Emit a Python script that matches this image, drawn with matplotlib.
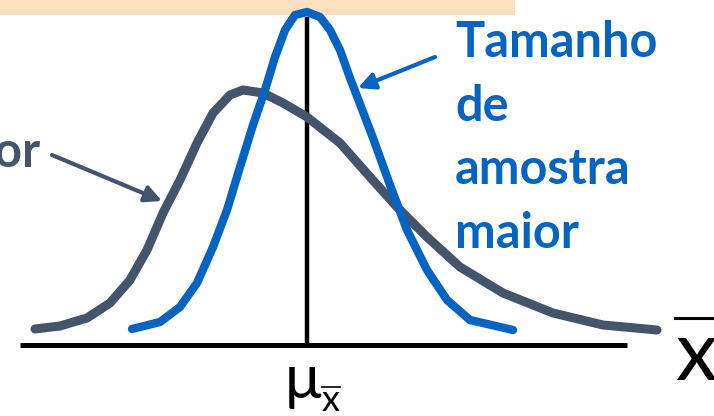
import matplotlib.pyplot as plt
from matplotlib.patches import Rectangle

# curves (x relative to the mean, y = height above the axis)
wide_x = [-2.72, -2.47, -2.20, -1.97, -1.77, -1.60, -1.44, -1.27, -1.10, -0.94, -0.77, -0.64,
          -0.44, -0.24, 0.00, 0.33, 0.63, 0.90, 1.20, 1.53, 1.96, 2.46, 2.96, 3.50]
wide_y = [0.16, 0.19, 0.27, 0.42, 0.65, 0.95, 1.32, 1.65, 2.02, 2.32, 2.50, 2.55,
          2.52, 2.42, 2.28, 2.02, 1.68, 1.38, 1.08, 0.78, 0.52, 0.32, 0.20, 0.15]

narrow_x = [-1.75, -1.47, -1.27, -1.10, -0.94, -0.80, -0.67, -0.54, -0.42, -0.32, -0.22, -0.12,
            0.00, 0.13, 0.23, 0.33, 0.43, 0.53, 0.66, 0.83, 1.00, 1.20, 1.40, 1.63, 2.06]
narrow_y = [0.16, 0.23, 0.38, 0.62, 0.98, 1.35, 1.78, 2.20, 2.55, 2.88, 3.15, 3.30,
            3.33, 3.28, 3.15, 2.95, 2.67, 2.41, 2.07, 1.60, 1.15, 0.75, 0.45, 0.25, 0.15]

big_label = ["Tamanho", "de", "amostra", "maior"]
small_label = "menor"

blue = "#0563C1"
gray = "#44546A"
fonts = ["Lato", "DejaVu Sans"]

fig = plt.figure(figsize=(7.14, 4.16), dpi=100)
ax = fig.add_axes([0, 0, 1, 1])
ax.set_xlim(-3.07, 4.07)
ax.set_ylim(-0.71, 3.45)
ax.axis("off")

# peach band at the top
ax.add_patch(Rectangle((-3.07, 3.30), 5.15, 0.2, color="#FCE0BF", lw=0, zorder=0))

# axis and mean line
ax.plot([-2.87, 3.20], [0, 0], color="black", lw=3.6, solid_capstyle="butt")
ax.plot([0, 0], [0, 3.28], color="black", lw=3.2, solid_capstyle="butt")

ax.plot(wide_x, wide_y, color=gray, lw=6.5, solid_capstyle="round", solid_joinstyle="round")
ax.plot(narrow_x, narrow_y, color=blue, lw=6.0, solid_capstyle="round", solid_joinstyle="round")

# labels
for i, line in enumerate(big_label):
    ax.text(1.48, 2.88 - 0.637 * i, line, color=blue, fontsize=35, fontweight="bold",
            family=fonts, ha="left", va="baseline")
ax.text(-2.67, 1.78, small_label, color=gray, fontsize=35, fontweight="bold",
        family=fonts, ha="right", va="baseline")

ax.annotate("", xy=(0.51, 2.57), xytext=(1.28, 2.88),
            arrowprops=dict(arrowstyle="-|>", color=blue, lw=3, mutation_scale=25,
                            shrinkA=0, shrinkB=0))
ax.annotate("", xy=(-1.45, 1.44), xytext=(-2.55, 1.90),
            arrowprops=dict(arrowstyle="-|>", color=gray, lw=3, mutation_scale=25,
                            shrinkA=0, shrinkB=0))

# mu with x-bar subscript
ax.text(-0.22, -0.53, "μ", fontsize=44, family=fonts, ha="left", va="baseline")
ax.text(0.15, -0.66, "x", fontsize=26, family=fonts, ha="left", va="baseline")
ax.plot([0.15, 0.33], [-0.42, -0.42], color="black", lw=1.2)

# x-bar on the right
ax.text(3.68, -0.35, "x", fontsize=60, family=fonts, ha="left", va="baseline")
ax.plot([3.68, 4.07], [0.27, 0.27], color="black", lw=2.2)

plt.savefig("out.png", dpi=100)
